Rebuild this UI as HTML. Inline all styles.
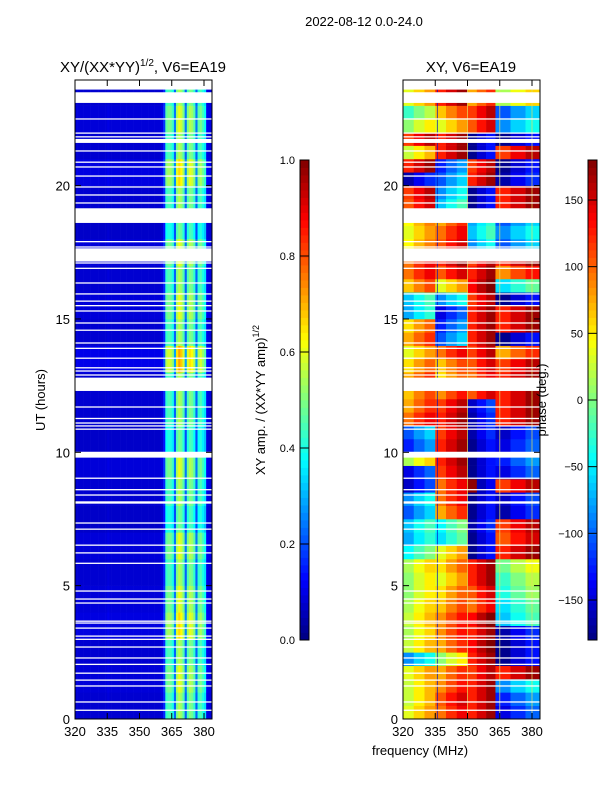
<!DOCTYPE html>
<html><head><meta charset="utf-8"><style>
body{margin:0;background:#fff;}
svg{display:block;font-family:"Liberation Sans",sans-serif;}
</style></head><body>
<svg id="fig" width="600" height="800" viewBox="0 0 600 800">
<rect width="600" height="800" fill="#fff"/>
<text x="364" y="26" font-size="13" text-anchor="middle">2022-08-12 0.0-24.0</text>
<text x="143" y="72" font-size="15" text-anchor="middle">XY/(XX*YY)<tspan font-size="10" dy="-6">1/2</tspan><tspan dy="6">, V6=EA19</tspan></text>
<text x="471" y="72" font-size="15" text-anchor="middle">XY, V6=EA19</text>
<text transform="translate(45,400) rotate(-90)" font-size="13" text-anchor="middle">UT (hours)</text>
<text x="420" y="755" font-size="13" text-anchor="middle">frequency (MHz)</text>
<text transform="translate(265,400) rotate(-90)" font-size="13" text-anchor="middle">XY amp. / (XX*YY amp)<tspan font-size="9" dy="-6">1/2</tspan></text>
<g id="ampPanel"></g>
<g id="phasePanel"></g>
<g id="cbars"></g>
<g id="axes"></g>
<text transform="translate(546,400) rotate(-90)" font-size="13" text-anchor="middle">phase (deg.)</text>
</svg>
<script>
// ---- data ----
const ampFreqStart = 320; // MHz, 1 MHz channels
const ampProfile = [0.08,0.08,0.08,0.08,0.08,0.08,0.08,0.08,0.08,0.08,0.08,0.08,0.08,0.08,0.08,0.09,0.08,0.08,0.08,0.08,0.08,0.08,0.08,0.08,0.08,0.08,0.08,0.08,0.08,0.08,0.08,0.08,0.08,0.08,0.08,0.08,0.08,0.08,0.08,0.08,0.09,0.16,0.42,0.45,0.44,0.4,0.22,0.5,0.55,0.52,0.45,0.22,0.45,0.5,0.48,0.42,0.22,0.42,0.45,0.4,0.35,0.1,0.09,0.09];
const ampRowScale = [1,1.1,1,1.2,1.1,1,1.1,0.9,1,1.1,0.9,1,1,1.3,1,1.1,1,1.1,0.9,1,1.2,1,1.1,1];
const phaseBands = [320,335,350,363,384];
const phaseSubOffset = [-25,0,20];
const phaseRows = [
[60,120,150,-120],[50,130,150,-100],[50,110,150,-60],[60,100,140,150],
[-60,30,150,-150],[50,100,160,-150],[40,110,150,-140],[50,110,160,-40],
[40,90,120,-30],[30,80,130,-10],[30,60,150,0],[40,80,150,20],
[-20,60,-150,150],[-50,-30,-150,130],[-40,-20,-140,140],[-80,100,-150,-140],
[-60,120,-150,-130],[-130,120,-160,140],[-120,140,-150,-120],[40,150,-150,-100],
[-100,150,-150,-120],[-80,140,-140,-130],[120,150,-140,150],[100,140,-130,150],
[90,110,130,150],[100,80,120,150],[80,90,130,140],[60,120,140,100],
[100,-80,150,-150],[80,-100,150,150],[-50,-120,150,150],[-40,-60,140,-150],
[90,60,160,-30],[120,130,150,110],[120,150,140,150],[70,130,-60,-80],
[60,120,-40,-60],[70,100,-50,-80],[130,-40,-150,150],[140,-60,-150,150],
[-140,-80,150,-140],[150,-100,140,-150],[50,150,-150,140],[140,150,-150,-150],
[30,60,130,-60],[0,90,140,-80],[60,150,100,40],[60,150,100,40]];
const flagBlocks = [[9.8,10.02],[12.3,12.8],[17.15,17.65],[18.6,19.15],[21.6,21.75],[23.1,23.5],[23.6,24]];
const flagLines = [0.33,0.64,1.24,1.46,1.72,2.05,2.29,2.7,2.99,3.11,3.41,3.6,3.67,4.35,4.5,4.8,5.84,6.23,6.52,7.12,7.35,8.1,8.14,8.4,8.6,9.03,10.87,10.99,11.1,11.27,11.7,12.9,13.05,13.17,13.53,13.9,14.1,14.58,14.85,15.3,15.5,15.67,15.94,16.35,16.9,17.1,17.7,17.9,19.35,19.65,19.95,20.36,20.7,20.88,21.3,21.83,21.97,22.5];
const xTicks = [320,335,350,365,380];
const yTicks = [0,5,10,15,20];
const ampTicks = [0,0.2,0.4,0.6,0.8,1.0];
const phaseTicks = [-150,-100,-50,0,50,100,150];

// ---- scales ----
const NS='http://www.w3.org/2000/svg';
const PY0=719, PY1=80, HMAX=(719-80)/26.67;
const y = h => PY0 - h*26.67;
const xL = f => 75 + (f-320)*2.15;
const xR = f => 403 + (f-320)*2.15;
const FMAX = 320 + 137/2.15;
function jet(v){v=Math.max(0,Math.min(1,v));
 const c=t=>Math.max(0,Math.min(1,t));
 const r=c(1.5-Math.abs(4*v-3)), g=c(1.5-Math.abs(4*v-2)), b=c(1.5-Math.abs(4*v-1));
 return `rgb(${Math.round(r*255)},${Math.round(g*255)},${Math.round(b*255)})`;}
function wrap(p){while(p>180)p-=360;while(p<-180)p+=360;return p;}
function mk(tag,attrs,parent){const e=document.createElementNS(NS,tag);for(const k in attrs)e.setAttribute(k,attrs[k]);parent.appendChild(e);return e;}

// amplitude heatmap
const ampG=document.getElementById('ampPanel');
ampRowScale.forEach((s,hi)=>{
 ampProfile.forEach((a,ci)=>{
  const f0=ampFreqStart+ci; if(f0>=FMAX) return;
  const f1=Math.min(f0+1,FMAX);
  const h1=Math.min(hi+1,HMAX);
  const r=mk('rect',{x:xL(f0),y:y(h1),width:xL(f1)-xL(f0)+0.3,height:y(hi)-y(h1)+0.3,fill:jet(a*s)},ampG);
  
  
 });
});
// phase heatmap
const phG=document.getElementById('phasePanel');
const nSub=phaseSubOffset.length;
phaseRows.forEach((row,ri)=>{
 const h0=ri*0.5, h1=Math.min(h0+0.5,HMAX);
 row.forEach((p,bi)=>{
  const fa=phaseBands[bi], fb=phaseBands[bi+1];
  phaseSubOffset.forEach((off,si)=>{
   const f0=fa+(fb-fa)*si/nSub;
   const f1=Math.min(fa+(fb-fa)*(si+1)/nSub,FMAX);
   const r=mk('rect',{x:xR(f0),y:y(h1),width:xR(f1)-xR(f0)+0.3,height:y(h0)-y(h1)+0.3,fill:jet((wrap(p+off)+180)/360)},phG);
   
   
  });
 });
});
// vertical channel lines in phase panel
[[336,'#0010c0'],[350,'#e0e060'],[365,'#e0e060'],[380,'#e0e060']].forEach(([f,c])=>{
 const l=mk('line',{x1:xR(f),x2:xR(f),y1:y(0),y2:y(HMAX),stroke:c,'stroke-width':1,opacity:0.7},phG);
 
 
});
// flags
[[ampG,75],[phG,403]].forEach(([g,x0])=>{
 flagBlocks.forEach(([a,b])=>{
  const r=mk('rect',{x:x0,y:y(b),width:137,height:y(a)-y(b),fill:'#fff'},g);
  
  
 });
 flagLines.forEach(h=>{
  const r=mk('rect',{x:x0,y:y(h)-0.6,width:137,height:1.3,fill:'#fff'},g);
  
  
 });
});
// axes
const ax=document.getElementById('axes');
[[75,xL,'left'],[403,xR,'right']].forEach(([x0,xs,nm])=>{
 const fr=mk('rect',{x:x0,y:80,width:137,height:639,fill:'none',stroke:'#000','stroke-width':1},ax);
 
 
 xTicks.forEach(t=>{
  const X=xs(t);
  mk('line',{x1:X,x2:X,y1:719,y2:713,stroke:'#000'},ax);
  mk('line',{x1:X,x2:X,y1:80,y2:86,stroke:'#000'},ax);
  const tx=mk('text',{x:X,y:736,'font-size':13,'text-anchor':'middle'},ax);
  tx.textContent=t;
  
  
 });
 yTicks.forEach(t=>{
  const Y=y(t);
  mk('line',{x1:x0,x2:x0+6,y1:Y,y2:Y,stroke:'#000'},ax);
  mk('line',{x1:x0+137,x2:x0+131,y1:Y,y2:Y,stroke:'#000'},ax);
  const tx=mk('text',{x:x0-5,y:Y+5,'font-size':13,'text-anchor':'end'},ax);
  tx.textContent=t;
  
  
 });
});
// colorbars
const cb=document.getElementById('cbars');
function colorbar(x0,vmin,vmax,ticks,nm){
 const N=64;
 for(let i=0;i<N;i++){
  const r=mk('rect',{x:x0,y:640-(i+1)*480/N,width:9,height:480/N+0.4,fill:jet((i+0.5)/N)},cb);
  
  
 }
 const f=mk('rect',{x:x0,y:160,width:9,height:480,fill:'none',stroke:'#000','stroke-width':1},cb);
 
 
 ticks.forEach(t=>{
  const Y=640-(t-vmin)/(vmax-vmin)*480;
  mk('line',{x1:x0,x2:x0+9,y1:Y,y2:Y,stroke:'#000'},cb);
  const tx=mk('text',{x:x0-5,y:Y+4,'font-size':11,'text-anchor':'end'},cb);
  tx.textContent=(vmax<=1?t.toFixed(1):(t<0?'\u2212'+(-t):t));
  
  
 });
}
colorbar(300,0,1,ampTicks,'amp-colorbar');
colorbar(588,-180,180,phaseTicks,'phase-colorbar');
</script>
</body></html>
